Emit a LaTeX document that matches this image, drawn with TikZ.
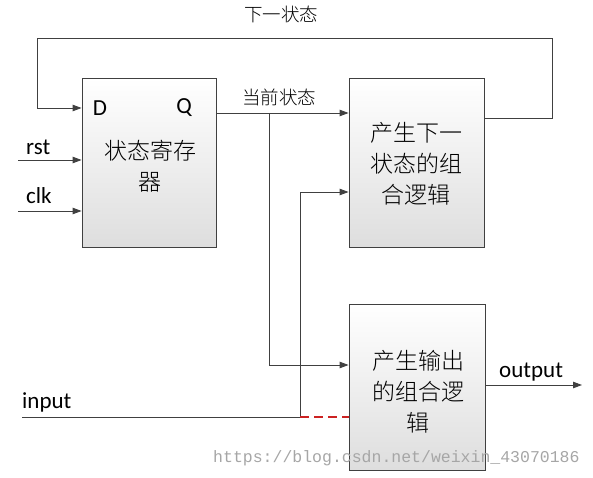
\documentclass[tikz,border=0pt]{standalone}
\usepackage{fontspec}
\setmainfont{Carlito}
\newfontfamily\cjk{Noto Sans CJK SC Light}
\newfontfamily\wmfont{Liberation Mono}
\usetikzlibrary{arrows.meta}
\definecolor{ln}{HTML}{404040}
\definecolor{dashred}{HTML}{CC2222}
\tikzset{
  blk/.style={draw=ln, line width=0.9pt, top color=white, bottom color=black!13, inner sep=0pt},
  wire/.style={draw=ln, line width=0.9pt},
  arr/.style={wire, -{Triangle[length=9pt,width=6.5pt]}},
  lat/.style={font=\fontsize{23}{25}\selectfont, text=black, inner sep=0pt},
  cjklab/.style={font=\cjk\fontsize{18.5}{20}\selectfont, text=black, inner sep=0pt},
  cjkbox/.style={font=\cjk\fontsize{23}{31}\selectfont, text=black, align=center, inner sep=0pt},
}
\begin{document}
\begin{tikzpicture}[x=1pt,y=-1pt]
\useasboundingbox (0,0) rectangle (593,478);
% blocks
\node[blk, minimum width=134pt, minimum height=169pt] (reg) at (149,162.5) {};
\node[blk, minimum width=135pt, minimum height=169pt] (nxt) at (416.5,162.5) {};
\node[blk, minimum width=136pt, minimum height=166pt] (out) at (417,387) {};
% texts in blocks
\node[lat] (D) at (100,108) {D};
\node[lat] (Q) at (184,108) {Q};
\node[cjkbox] (regt) at (150,166) {状态寄存\\器};
\node[cjkbox] (nxtt) at (416,164) {产生下一\\状态的组\\合逻辑};
\node[cjkbox] (outt) at (418,392) {产生输出\\的组合逻\\辑};
% helper coordinates
\coordinate (j1) at (269,113);
\coordinate (j2) at (300,417);
\coordinate (c192) at (0,192);
\coordinate (c365) at (0,365);
\coordinate (c118) at (0,118);
\coordinate (c108) at (0,108);
\coordinate (tr) at (552,38);
\coordinate (tl) at (37,38);
\coordinate (rstS) at (18,160);
\coordinate (clkS) at (18,211);
\coordinate (inS) at (22,417);
\coordinate (outE) at (582,385);
% connectors
\draw[arr] (reg.east |- j1) -- (nxt.west |- j1);
\draw[arr] (j1) |- (out.west |- c365);
\draw[arr] (nxt.east |- c118) -| (tr) -- (tl) |- (reg.west |- c108);
\draw[arr] (rstS) -- (reg.west |- rstS);
\draw[arr] (clkS) -- (reg.west |- clkS);
\draw[wire] (inS) -- (j2);
\draw[arr] (j2) |- (nxt.west |- c192);
\draw[dashred, line width=1.8pt, dash pattern=on 9pt off 5pt] (j2) -- (out.west |- j2);
\draw[arr] (out.east |- outE) -- (outE);
% labels
\node[cjklab] (lnext) at (281,14) {下一状态};
\node[cjklab] (lcur) at (279,97) {当前状态};
\node[lat, anchor=west] (lrst) at (26,147) {rst};
\node[lat, anchor=west] (lclk) at (26,196) {clk};
\node[lat, anchor=west] (lin) at (22,402) {input};
\node[lat, anchor=west] (lout) at (499,372) {output};
\node[font=\wmfont\fontsize{16.5}{18}\selectfont, text=black!35, anchor=west, inner sep=0pt] (wm) at (213,458) {https://blog.csdn.net/weixin\_43070186};
\end{tikzpicture}
\end{document}
